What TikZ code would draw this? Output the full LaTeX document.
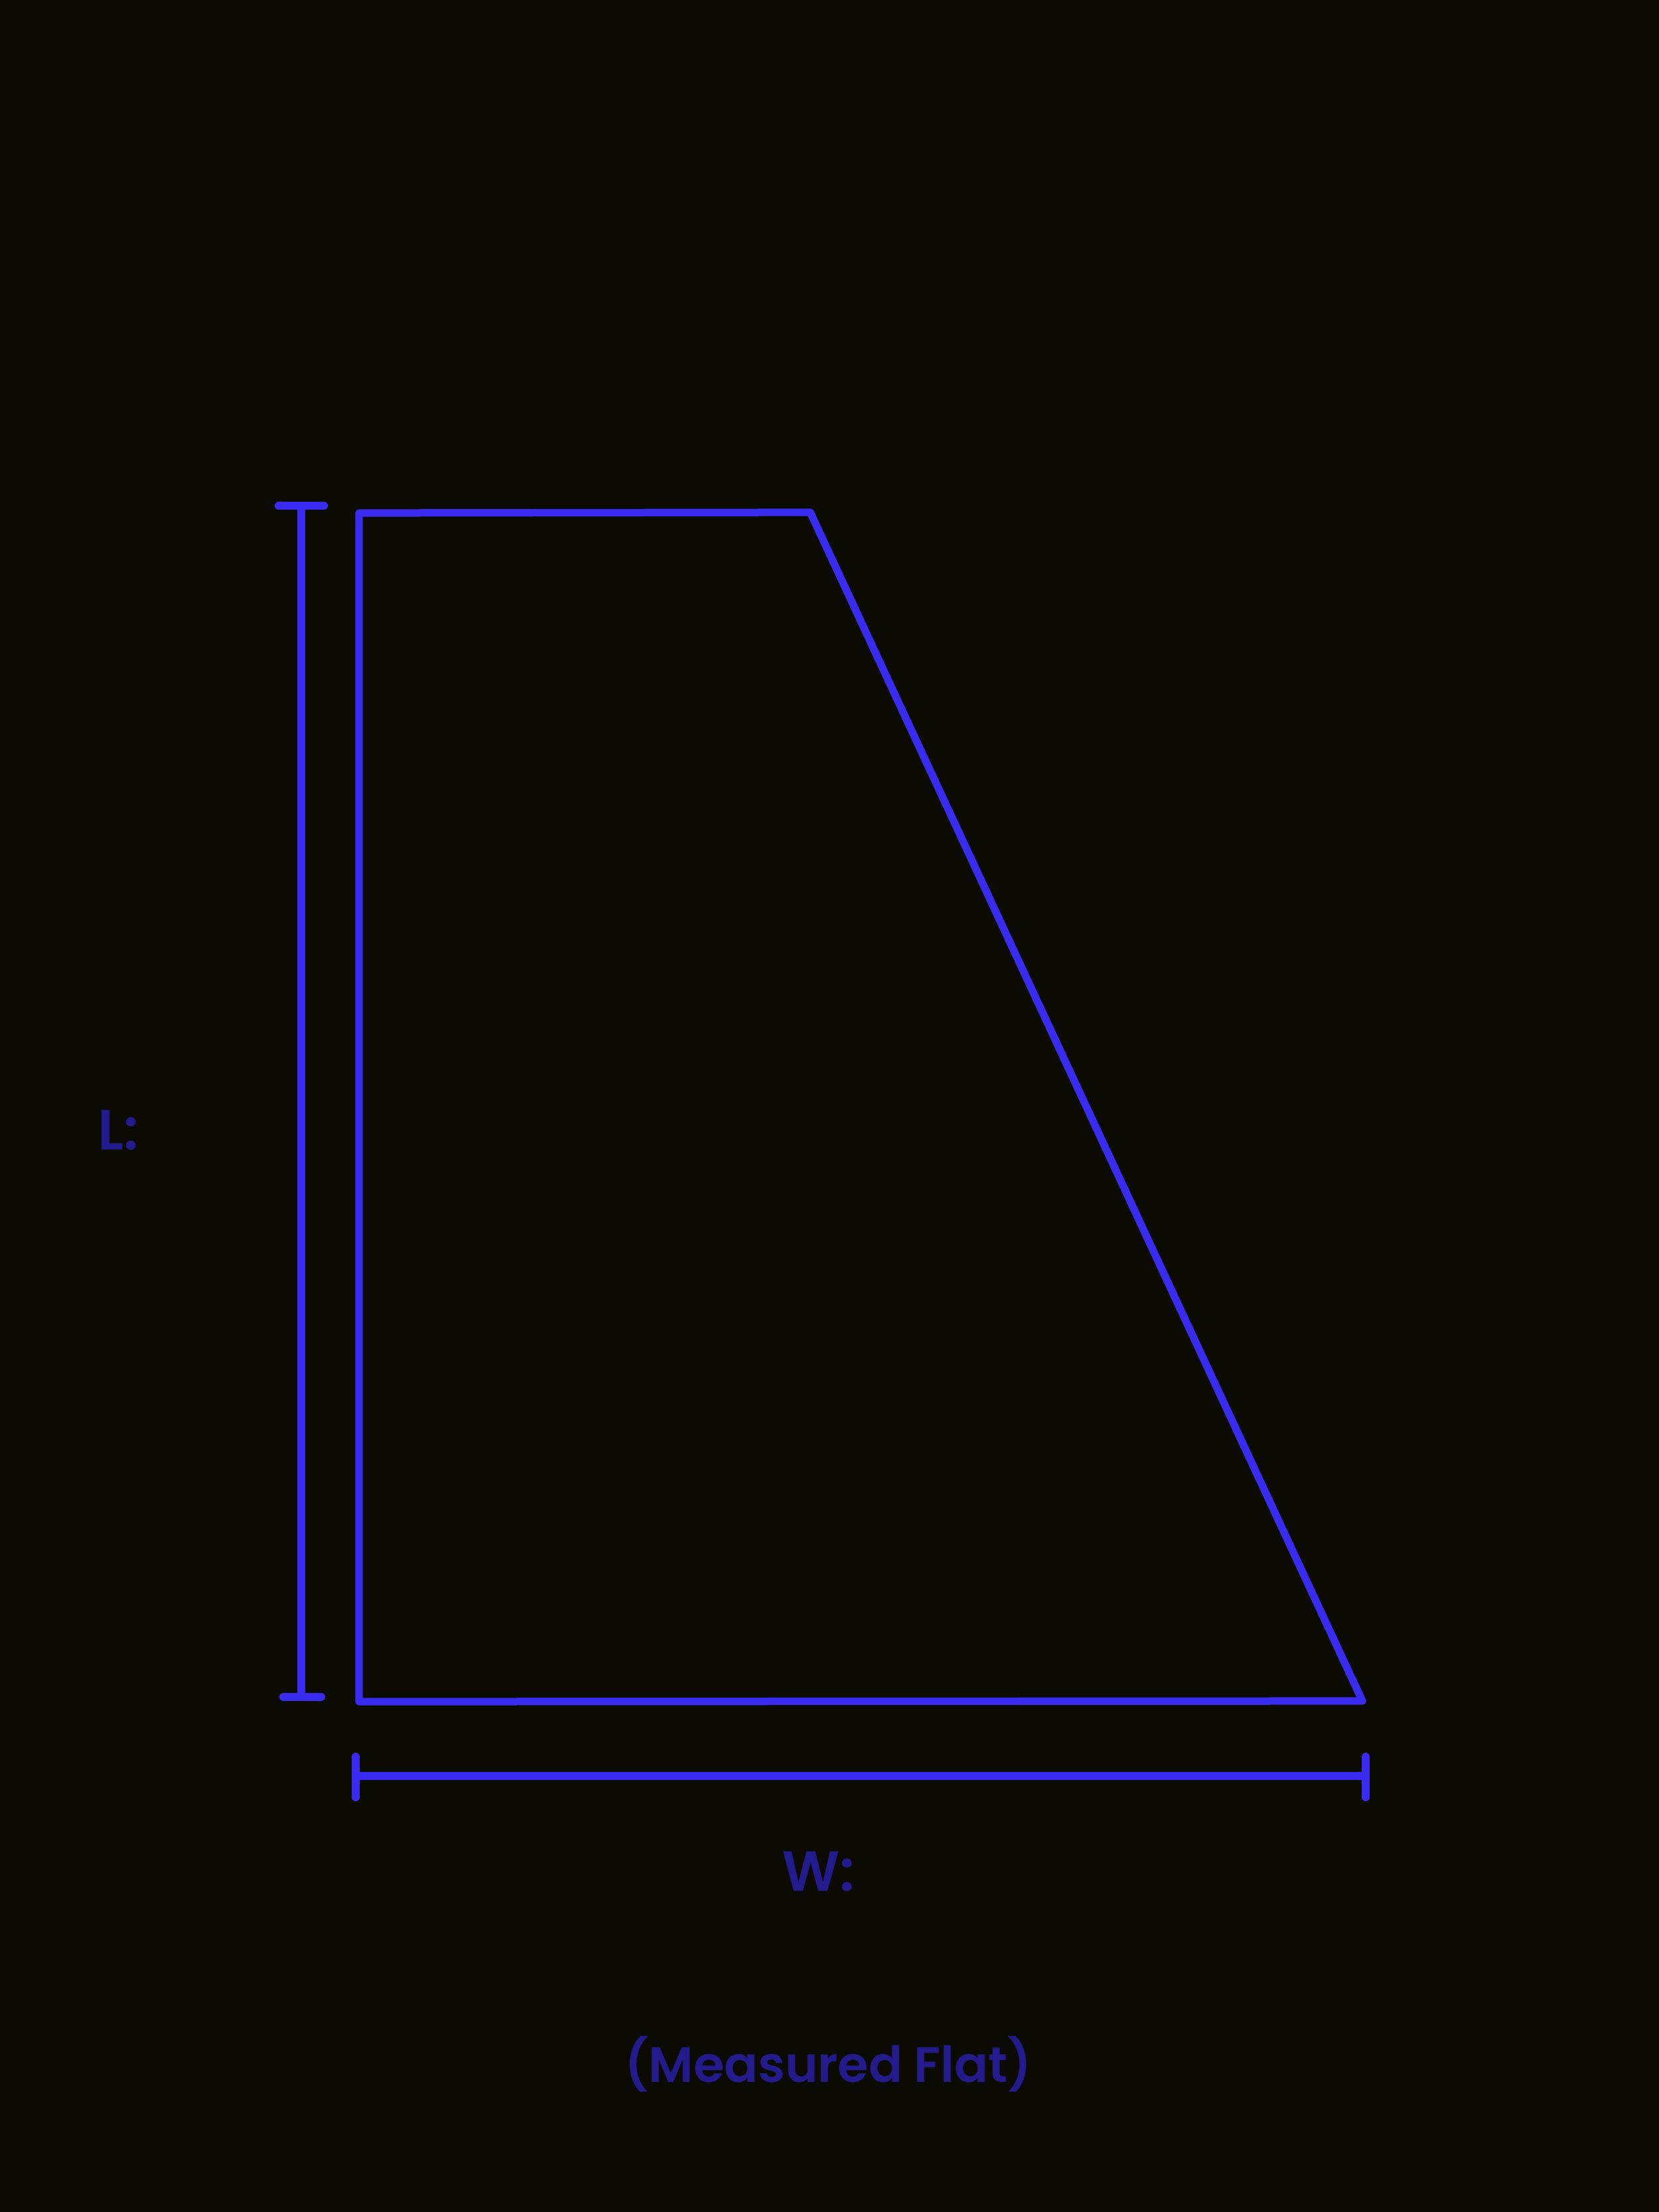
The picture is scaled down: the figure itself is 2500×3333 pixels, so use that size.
\documentclass[tikz,border=0pt]{standalone}
\usepackage{fontspec}
\newfontfamily\popfont{Poppins SemiBold}
\definecolor{bgc}{HTML}{0B0B03}
\definecolor{linec}{HTML}{3A2BF0}
\definecolor{textc}{HTML}{231B8C}
\begin{document}
\begin{tikzpicture}[x=0.24pt,y=-0.24pt,
  shapeline/.style={draw=linec,line width=2.7pt,line join=round,line cap=round},
  dimline/.style={draw=linec,line width=2.9pt,line cap=round},
  lbl/.style={text=textc,font=\popfont\fontsize{20.5}{25}\selectfont,inner sep=0pt,anchor=center}]
\fill[bgc] (0,0) rectangle (2500,3333);
\useasboundingbox (0,0) rectangle (2500,3333);
% trapezoid
\coordinate (tl) at (541,773);
\coordinate (tr) at (1221,772);
\coordinate (br) at (2053,2563);
\coordinate (bl) at (541,2564);
\draw[shapeline] (tl) -- (tr) -- (br) -- (bl) -- cycle;
% length dimension
\coordinate (lt) at (454,762);
\coordinate (lb) at (454,2557);
\coordinate (lt1) at (420,762);
\coordinate (lt2) at (488,762);
\coordinate (lb1) at (427,2557);
\coordinate (lb2) at (484,2557);
\draw[dimline] (lt) -- (lb);
\draw[dimline] (lt1) -- (lt2);
\draw[dimline] (lb1) -- (lb2);
% width dimension
\coordinate (wl) at (536,2676);
\coordinate (wr) at (2058,2676);
\coordinate (wl1) at (536,2647);
\coordinate (wl2) at (536,2708);
\coordinate (wr1) at (2058,2647);
\coordinate (wr2) at (2058,2708);
\draw[dimline] (wl) -- (wr);
\draw[dimline] (wl1) -- (wl2);
\draw[dimline] (wr1) -- (wr2);
% labels
\node[lbl] (L) at (178,1703) {L:};
\node[lbl] (W) at (1233,2820) {W:};
\node[lbl,font=\popfont\fontsize{18}{22}\selectfont] (M) at (1248,3110) {(Measured Flat)};
\end{tikzpicture}
\end{document}
